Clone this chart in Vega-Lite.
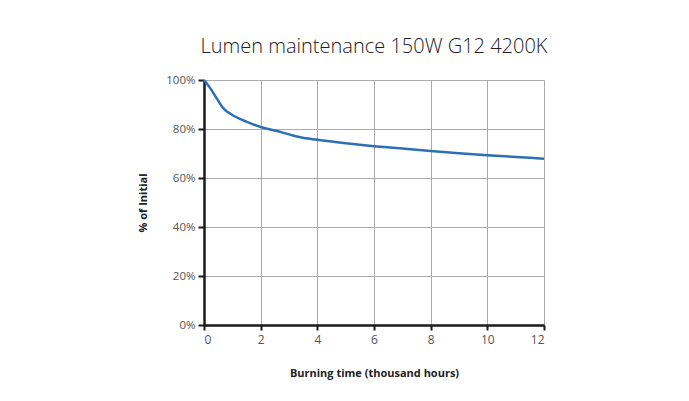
{
  "$schema": "https://vega.github.io/schema/vega-lite/v6.json",
  "width": 340,
  "height": 245,
  "autosize": "none",
  "padding": {"left": 204, "top": 80, "right": 145, "bottom": 76},
  "background": "white",
  "title": {
    "text": "Lumen maintenance 150W G12 4200K",
    "font": "Open Sans",
    "fontSize": 20,
    "fontWeight": 300,
    "color": "#222222",
    "anchor": "middle",
    "offset": 17
  },
  "data": {
    "values": [
      {"t": 0, "v": 100},
      {"t": 0.2, "v": 97},
      {"t": 0.45, "v": 92.5},
      {"t": 0.67, "v": 88.6},
      {"t": 0.85, "v": 86.8},
      {"t": 1.03, "v": 85.5},
      {"t": 1.25, "v": 84.2},
      {"t": 1.5, "v": 83},
      {"t": 2, "v": 80.8},
      {"t": 2.5, "v": 79.4},
      {"t": 3, "v": 77.8},
      {"t": 3.4, "v": 76.6},
      {"t": 4, "v": 75.6},
      {"t": 5, "v": 74.2},
      {"t": 6, "v": 73},
      {"t": 7, "v": 72},
      {"t": 8, "v": 71},
      {"t": 9, "v": 70.1},
      {"t": 10, "v": 69.3},
      {"t": 11, "v": 68.6},
      {"t": 12, "v": 67.9}
    ]
  },
  "mark": {"type": "line", "color": "#2b70b6", "strokeWidth": 2.5, "interpolate": "monotone"},
  "encoding": {
    "x": {
      "field": "t",
      "type": "quantitative",
      "scale": {"domain": [0, 12], "nice": false},
      "axis": {
        "values": [0, 2, 4, 6, 8, 10, 12],
        "title": "Burning time (thousand hours)",
        "titleFont": "Open Sans",
        "titleFontSize": 11,
        "titleFontWeight": "bold",
        "titleColor": "#222222",
        "titlePadding": 22,
        "labelFont": "Open Sans",
        "labelFontSize": 12,
        "labelColor": "#555555",
        "labelPadding": 4,
        "domainColor": "#1a1a1a",
        "domainWidth": 2.5,
        "tickColor": "#1a1a1a",
        "tickWidth": 2,
        "tickSize": 5,
        "gridColor": "#aaaaaa",
        "gridWidth": 1
      }
    },
    "y": {
      "field": "v",
      "type": "quantitative",
      "scale": {"domain": [0, 100], "nice": false},
      "axis": {
        "values": [0, 20, 40, 60, 80, 100],
        "labelExpr": "datum.value + '%'",
        "title": "% of Initial",
        "titleFont": "Open Sans",
        "titleFontSize": 11,
        "titleFontWeight": "bold",
        "titleColor": "#222222",
        "titlePadding": 17,
        "labelFont": "Open Sans",
        "labelFontSize": 11.5,
        "labelColor": "#555555",
        "labelPadding": 3,
        "domainColor": "#1a1a1a",
        "domainWidth": 2.5,
        "tickColor": "#1a1a1a",
        "tickWidth": 2,
        "tickSize": 6,
        "gridColor": "#aaaaaa",
        "gridWidth": 1
      }
    }
  },
  "config": {
    "view": {"stroke": null}
  }
}
